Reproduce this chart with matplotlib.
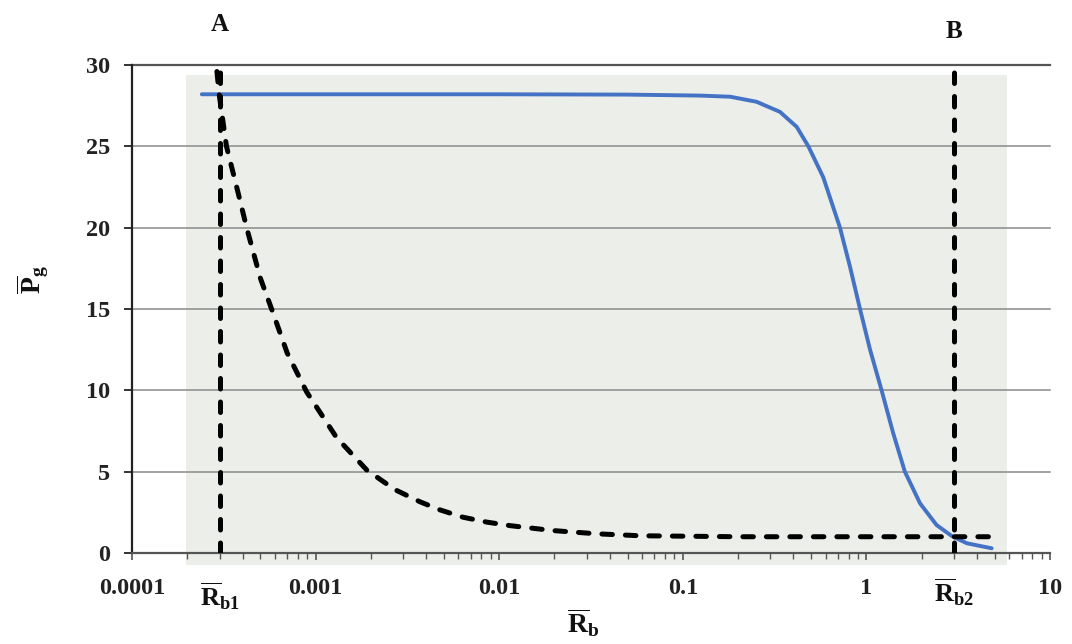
import matplotlib
matplotlib.use('Agg')
import matplotlib.pyplot as plt
import matplotlib.ticker as ticker
import matplotlib.transforms as mtransforms
from matplotlib.patches import Rectangle

# values
blue_x = [2.4e-4, 1e-3, 0.01, 0.05, 0.124, 0.181, 0.252, 0.338, 0.417, 0.483,
          0.582, 0.718, 0.814, 0.923, 1.047, 1.21, 1.40, 1.62, 1.96, 2.41,
          2.92, 3.52, 4.81]
blue_y = [28.2, 28.2, 28.2, 28.18, 28.12, 28.05, 27.74, 27.12, 26.2, 25.0,
          23.1, 20.0, 17.6, 15.0, 12.5, 10.0, 7.36, 5.0, 3.05, 1.72,
          1.04, 0.6, 0.29]

dash_x = [2.9e-4, 3.0e-4, 3.27e-4, 3.87e-4, 4.21e-4, 5.0e-4, 5.76e-4, 7.0e-4,
          8.94e-4, 1.3e-3, 1.9e-3, 2.7e-3, 3.7e-3, 4.76e-3, 6.35e-3, 8.55e-3,
          0.0115, 0.0196, 0.034, 0.0585, 0.2, 1.0, 4.8]
dash_y = [29.6, 28.0, 25.0, 21.7, 20.0, 16.9, 15.0, 12.3,
          9.9, 7.1, 5.1, 3.9, 3.15, 2.65, 2.2, 1.9,
          1.68, 1.38, 1.18, 1.06, 1.0, 1.0, 1.0]

ref_x = [3e-4, 3]
ref_names = [r'$\mathbf{\overline{R}_{b1}}$', r'$\mathbf{\overline{R}_{b2}}$']
point_names = ['A', 'B']
y_ticks = [0, 5, 10, 15, 20, 25, 30]

plt.rcParams['font.family'] = 'Liberation Serif'
plt.rcParams['mathtext.fontset'] = 'custom'
plt.rcParams['mathtext.rm'] = 'Liberation Serif'
plt.rcParams['mathtext.bf'] = 'Liberation Serif:bold'
plt.rcParams['mathtext.it'] = 'Liberation Serif:italic'

fig = plt.figure(figsize=(10.72, 6.44), dpi=100)
ax = fig.add_axes([132/1072, 1-553/644, 918/1072, 488/644])
ax.set_facecolor('none')
# shaded scan panel behind the plot
ax.add_patch(Rectangle((186/1072, 1-565/644), 821/1072, 490/644,
                       transform=fig.transFigure, facecolor='#eceeea',
                       edgecolor='none', zorder=0, clip_on=False))

ax.set_xscale('log')
ax.set_xlim(1e-4, 10)
ax.set_ylim(0, 30)

for yv in y_ticks[1:]:
    ax.axhline(yv, color='#555555' if yv == 30 else '#8a8a8a',
               lw=1.6 if yv == 30 else 1.1, zorder=1, clip_on=False)

ax.plot(blue_x, blue_y, color='#4472c4', lw=2.8, solid_capstyle='round',
        solid_joinstyle='round', zorder=3)
ax.plot(dash_x, dash_y, color='black', lw=3.6, dashes=(2.1, 2.6),
        dash_capstyle='round', zorder=4)
for xv in ref_x:
    ax.plot([xv, xv], [0, 29.7], color='black', lw=3.6, dashes=(2.1, 2.6),
            dash_capstyle='round', zorder=4)

ax.spines['top'].set_visible(False)
ax.spines['right'].set_visible(False)
ax.spines['left'].set_color('#222222')
ax.spines['left'].set_linewidth(1.6)
ax.spines['bottom'].set_color('#555555')
ax.spines['bottom'].set_linewidth(1.6)

ax.set_yticks(y_ticks)
ax.xaxis.set_major_locator(ticker.LogLocator(base=10, numticks=10))
ax.xaxis.set_minor_locator(ticker.LogLocator(base=10, subs=range(2, 10), numticks=50))
ax.xaxis.set_major_formatter(ticker.FuncFormatter(lambda v, p: f'{v:g}'))
ax.xaxis.set_minor_formatter(ticker.NullFormatter())
ax.tick_params(axis='y', length=6, width=1.4, color='#333333', pad=10,
               labelsize=17.5, labelcolor='#222222')
ax.tick_params(axis='x', which='major', length=5, width=1.2, color='#555555',
               pad=13, labelsize=17.5, labelcolor='#222222')
ax.tick_params(axis='x', which='minor', length=4, width=1.0, color='#555555')
for lab in ax.get_xticklabels() + ax.get_yticklabels():
    lab.set_fontweight('bold')

trans = mtransforms.blended_transform_factory(ax.transData, ax.transAxes)
ax.text(ref_x[0], 1.082, point_names[0], transform=trans, ha='center', va='center',
        fontsize=18, fontweight='bold', color='#111111')
ax.text(ref_x[1], 1.068, point_names[1], transform=trans, ha='center', va='center',
        fontsize=18, fontweight='bold', color='#111111')
ax.text(ref_x[0], -0.09, ref_names[0], transform=trans, ha='center', va='center',
        fontsize=19, color='#111111')
ax.text(ref_x[1], -0.08, ref_names[1], transform=trans, ha='center', va='center',
        fontsize=19, color='#111111')

ax.set_xlabel(r'$\mathbf{\overline{R}_{b}}$', fontsize=20, color='#111111')
ax.xaxis.set_label_coords(0.491, -0.11)
ax.xaxis.label.set_verticalalignment('top')
ax.set_ylabel(r'$\mathbf{\overline{P}_{g}}$', fontsize=20, color='#111111')
ax.yaxis.set_label_coords(-0.088, 0.56)

plt.savefig('out.png', dpi=100)
